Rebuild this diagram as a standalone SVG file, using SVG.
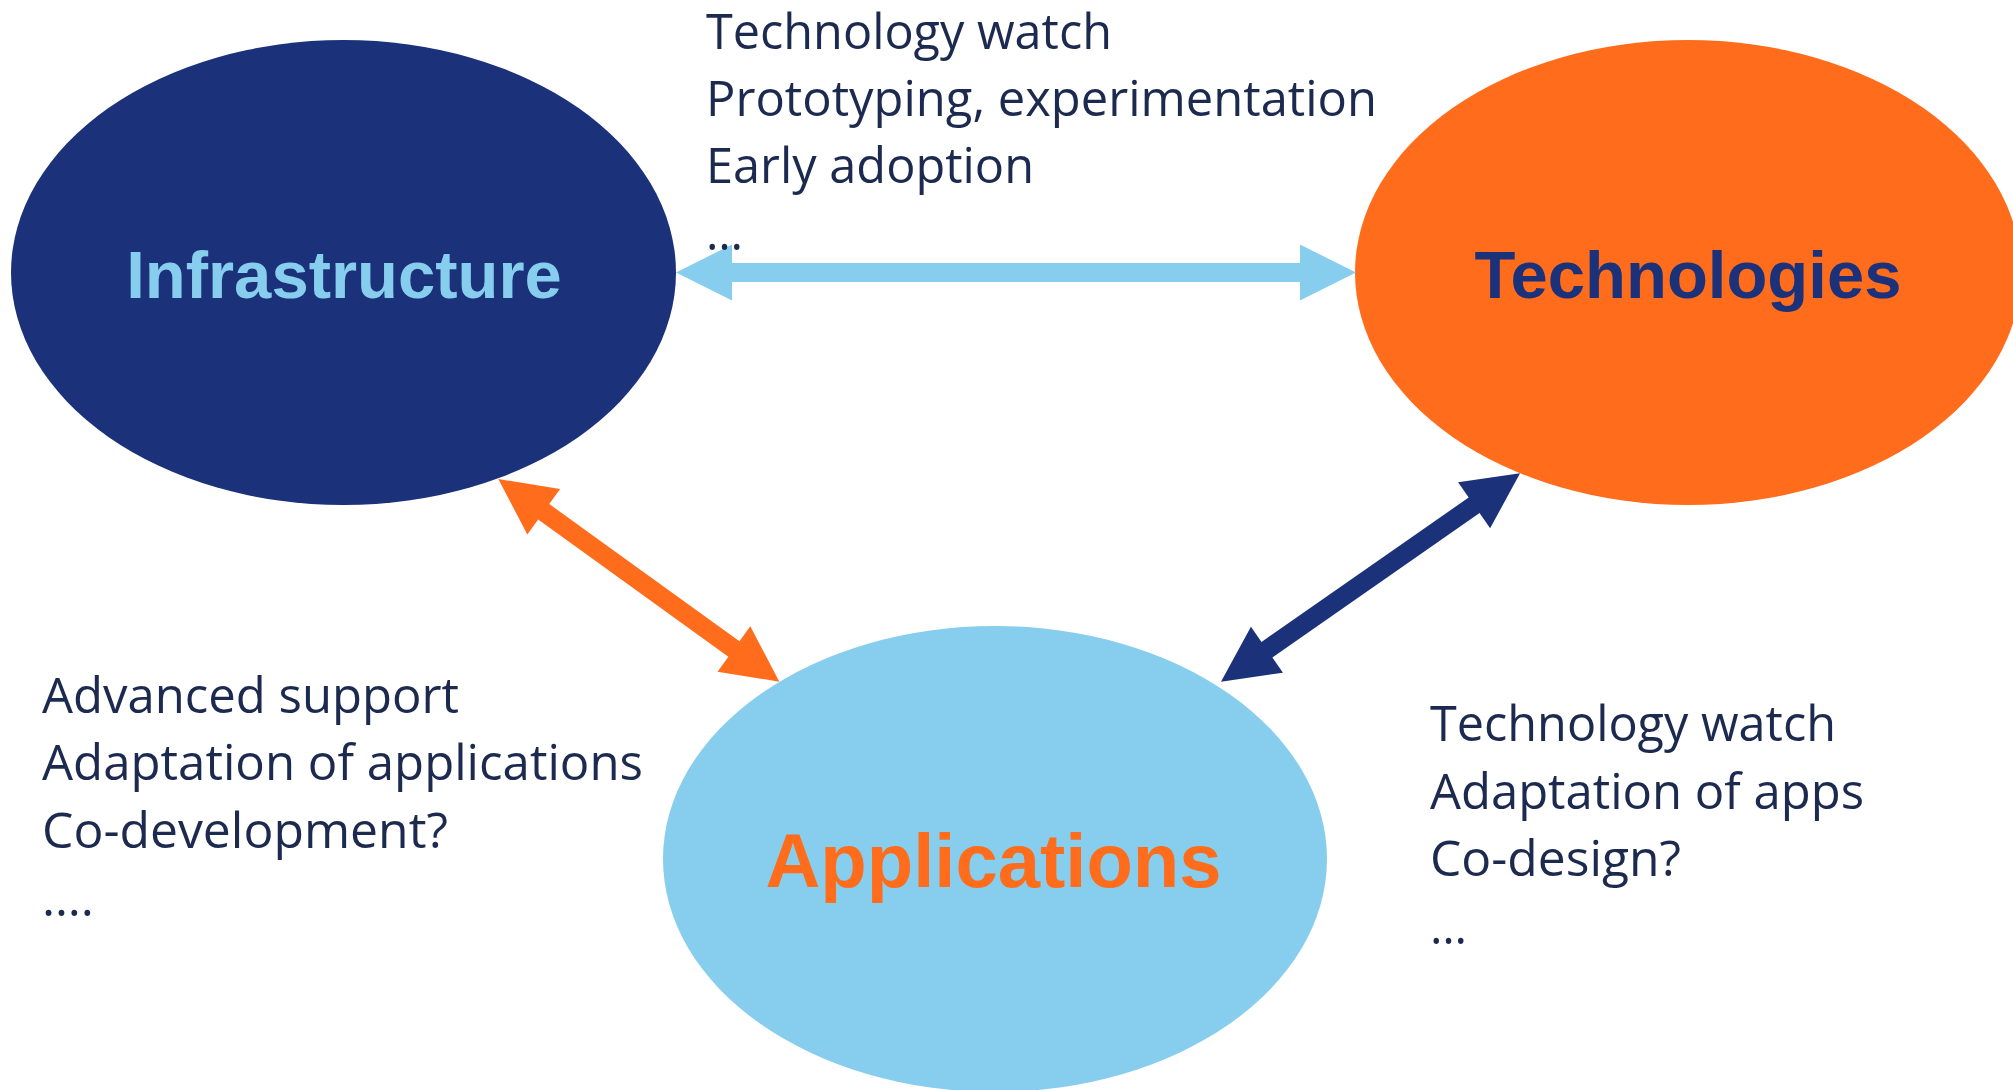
<svg xmlns="http://www.w3.org/2000/svg" width="2013" height="1090" viewBox="0 0 2013 1090">
  <style>
    .title { font-family: "Liberation Sans", Arial, sans-serif; font-weight: bold; text-anchor: middle; }
    .body { font-family: "Open Sans", "Liberation Sans", sans-serif; font-size: 49px; fill: #1B2A4E; }
  </style>
  <rect width="2013" height="1090" fill="#FFFFFF"/>
  <g id="node-infrastructure">
    <ellipse cx="343.5" cy="272.5" rx="332.5" ry="232.5" fill="#1B317A"/>
    <text class="title" x="344" y="298" font-size="67" fill="#87CEEE">Infrastructure</text>
  </g>
  <g id="node-technologies">
    <ellipse cx="1688" cy="272.5" rx="333" ry="232.5" fill="#FF6C1C"/>
    <text class="title" x="1688" y="298" font-size="67" fill="#1B317A">Technologies</text>
  </g>
  <g id="node-applications">
    <ellipse cx="995" cy="859" rx="332" ry="233" fill="#87CEEE"/>
    <text class="title" x="993.5" y="887" font-size="76" fill="#FF6C1C">Applications</text>
  </g>
  <g id="connectors">
    <polygon fill="#87CEEE" transform="translate(676,272.5)" points="0,0 56,-28 56,-9.5 624,-9.5 624,-28 680,0 624,28 624,9.5 56,9.5 56,28"/>
    <polygon fill="#FF6C1C" transform="translate(498.3,479) rotate(35.8)" points="0,0 56,-28 56,-9.5 290.5,-9.5 290.5,-28 346.5,0 290.5,28 290.5,9.5 56,9.5 56,28"/>
    <polygon fill="#1B317A" transform="translate(1221,681.7) rotate(-34.87)" points="0,0 56,-28 56,-9.5 308.5,-9.5 308.5,-28 364.5,0 308.5,28 308.5,9.5 56,9.5 56,28"/>
  </g>
  <g id="text-top">
    <text class="body" x="706" y="49" textLength="406" lengthAdjust="spacingAndGlyphs">Technology watch</text>
    <text class="body" x="706" y="116" textLength="671" lengthAdjust="spacingAndGlyphs">Prototyping, experimentation</text>
    <text class="body" x="706" y="183" textLength="328" lengthAdjust="spacingAndGlyphs">Early adoption</text>
    <text class="body" x="706" y="250" textLength="37" lengthAdjust="spacingAndGlyphs">…</text>
  </g>
  <g id="text-left">
    <text class="body" x="42" y="713" textLength="417" lengthAdjust="spacingAndGlyphs">Advanced support</text>
    <text class="body" x="42" y="780" textLength="601" lengthAdjust="spacingAndGlyphs">Adaptation of applications</text>
    <text class="body" x="42" y="848" textLength="406" lengthAdjust="spacingAndGlyphs">Co-development?</text>
    <text class="body" x="42" y="916" textLength="52" lengthAdjust="spacingAndGlyphs">….</text>
  </g>
  <g id="text-right">
    <text class="body" x="1430" y="741" textLength="406" lengthAdjust="spacingAndGlyphs">Technology watch</text>
    <text class="body" x="1430" y="809" textLength="434" lengthAdjust="spacingAndGlyphs">Adaptation of apps</text>
    <text class="body" x="1430" y="876" textLength="251" lengthAdjust="spacingAndGlyphs">Co-design?</text>
    <text class="body" x="1430" y="944" textLength="37" lengthAdjust="spacingAndGlyphs">…</text>
  </g>
</svg>
